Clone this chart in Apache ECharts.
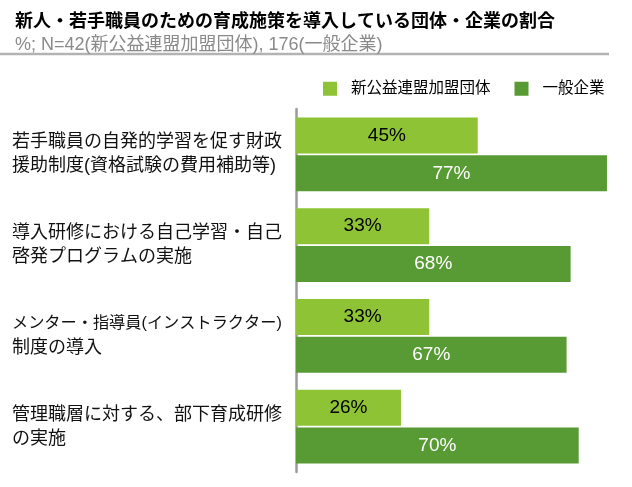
<!DOCTYPE html>
<html><head><meta charset="utf-8">
<script src="https://cdn.jsdelivr.net/npm/echarts@6/dist/echarts.min.js"></script>
<style>html,body{margin:0;padding:0;background:#fff}#c{width:632px;height:487px}</style>
</head><body><div id="c"></div>
<script>
const titleText = '新人・若手職員のための育成施策を導入している団体・企業の割合';
const subtitleText = '%; N=42(新公益連盟加盟団体), 176(一般企業)';
const categories = [
  '若手職員の自発的学習を促す財政\n援助制度(資格試験の費用補助等)',
  '導入研修における自己学習・自己\n啓発プログラムの実施',
  'メンター・指導員(インストラクター)\n制度の導入',
  '管理職層に対する、部下育成研修\nの実施'
];
const seriesNames = ['新公益連盟加盟団体', '一般企業'];
const valuesMember = [45, 33, 33, 26];
const valuesGeneral = [77, 68, 67, 70];

const FONT = '"Liberation Sans", "Noto Sans CJK JP", sans-serif';
const chart = echarts.init(document.getElementById('c'));
chart.setOption({
  animation: false,
  textStyle: { fontFamily: FONT },
  title: {
    text: titleText,
    subtext: subtitleText,
    left: 10, top: 8, itemGap: 5,
    textStyle: { fontSize: 18, fontWeight: 'bold', color: '#000', fontFamily: FONT },
    subtextStyle: { fontSize: 18, color: '#8a8a8a', fontFamily: FONT }
  },
  graphic: [{
    type: 'line', shape: { x1: 0, y1: 54, x2: 609, y2: 54 },
    style: { stroke: '#b3b3b3', lineWidth: 2.5 }
  }],
  legend: {
    left: 318, top: 76, itemWidth: 14, itemHeight: 14, itemGap: 24,
    icon: 'rect',
    textStyle: { fontSize: 15.5, color: '#000', padding: [0, 0, 0, 9], fontFamily: FONT },
    data: seriesNames
  },
  grid: { left: 296, right: 0, top: 109, bottom: 15, containLabel: false },
  xAxis: { type: 'value', min: 0, max: 83.2, show: false },
  yAxis: {
    type: 'category', inverse: true, data: categories,
    axisLine: { lineStyle: { color: '#9a9a9a', width: 2.5 } },
    axisTick: { show: false },
    axisLabel: {
      margin: 284, align: 'left', fontSize: 18, lineHeight: 24, color: '#111', fontFamily: FONT,
      formatter: function (v) {
        const lines = v.split('\n');
        return lines.map(function (l) {
          return l.length > 16 ? '{s|' + l + '}' : '{n|' + l + '}';
        }).join('\n');
      },
      rich: {
        n: { fontSize: 18, lineHeight: 24, color: '#111', fontFamily: FONT },
        s: { fontSize: 16.2, lineHeight: 24, color: '#111', fontFamily: FONT }
      }
    }
  },
  series: [
    {
      name: seriesNames[0], type: 'bar', data: valuesMember, barWidth: 36, barGap: '5%',
      itemStyle: { color: '#8DC334' },
      label: { show: true, position: 'inside', formatter: '{c}%', fontSize: 19, color: '#000', fontFamily: FONT }
    },
    {
      name: seriesNames[1], type: 'bar', data: valuesGeneral, barWidth: 36, barGap: '5%',
      itemStyle: { color: '#589A33' },
      label: { show: true, position: 'inside', formatter: '{c}%', fontSize: 19, color: '#fff', fontFamily: FONT }
    }
  ]
});
</script></body></html>
